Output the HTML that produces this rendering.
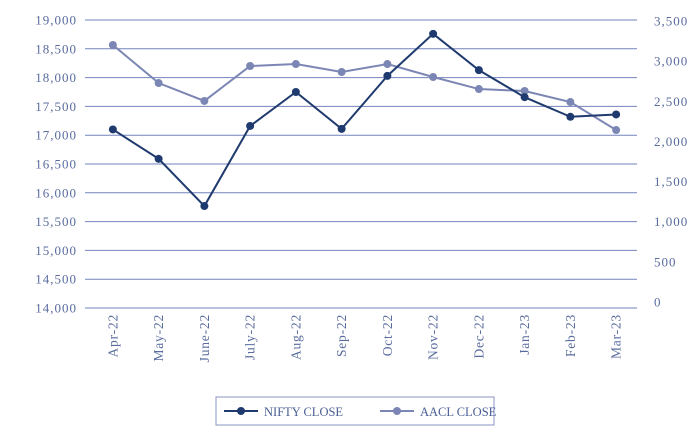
<!DOCTYPE html>
<html><head><meta charset="utf-8"><style>
body{margin:0;background:#fff;}
svg{font-family:"Liberation Serif",serif;}
</style></head><body>
<svg id="chart" width="700" height="440">
<g id="grid"></g><g id="yl"></g><g id="yr"></g><g id="xl"></g><g id="series"></g>
<g>
<rect x="216" y="397" width="278" height="28" fill="#fff" stroke="#8894c4" stroke-width="1"/>
<g>
<line x1="224" y1="411" x2="258" y2="411" stroke="#1f3a6e" stroke-width="2"/><circle cx="241" cy="411" r="4" fill="#1f3a6e"/>
<text x="264" y="416" font-size="12.5" fill="#4a5e94">NIFTY CLOSE</text></g>
<g>
<line x1="380" y1="411" x2="414" y2="411" stroke="#7b86b4" stroke-width="2"/><circle cx="397" cy="411" r="4" fill="#7b86b4"/>
<text x="420" y="416" font-size="12.5" fill="#4a5e94">AACL CLOSE</text></g>
</g>
</svg>
<script>
const categories=["Apr-22","May-22","June-22","July-22","Aug-22","Sep-22","Oct-22","Nov-22","Dec-22","Jan-23","Feb-23","Mar-23"];
const nifty=[17100,16590,15770,17160,17750,17110,18030,18760,18130,17660,17320,17360];
const aacl=[3196,2734,2516,2941,2965,2868,2965,2807,2661,2637,2503,2163];
const leftTicks=[14000,14500,15000,15500,16000,16500,17000,17500,18000,18500,19000];
const rightTicks=[0,500,1000,1500,2000,2500,3000,3500];
const NS="http://www.w3.org/2000/svg";
const x0=90,x1=639,yT=20,yB=308;
const bw=(x1-x0)/categories.length;
const xs=i=>x0+bw*(i+0.5);
const yL=v=>yB-(v-14000)/5000*(yB-yT);
const yR=v=>yB-v/3500*(yB-yT);
const yRlab=v=>302-v/3500*281;
function mk(t,a,p){const e=document.createElementNS(NS,t);for(const k in a)e.setAttribute(k,a[k]);p.appendChild(e);return e;}
const grid=document.getElementById('grid'),yl=document.getElementById('yl'),yr=document.getElementById('yr'),xl=document.getElementById('xl'),ser=document.getElementById('series');
leftTicks.forEach(v=>{
 const l=mk('line',{x1:85,x2:637,y1:yL(v),y2:yL(v),stroke:'#7483bd','stroke-width':1},grid);
 
 
 const t=mk('text',{x:77,y:yL(v)+4.5,'text-anchor':'end','font-size':13,'letter-spacing':1,fill:'#5a6c9e'},yl);
 t.textContent=v.toLocaleString('en-US');
 
 
});
rightTicks.forEach(v=>{
 const t=mk('text',{x:654,y:yRlab(v)+4.5,'font-size':13,'letter-spacing':1,fill:'#5a6c9e'},yr);
 t.textContent=v.toLocaleString('en-US');
 
 
});
categories.forEach((c,i)=>{
 const t=mk('text',{transform:`translate(${xs(i)+4.5},314) rotate(-90)`,'text-anchor':'end','font-size':13.5,'letter-spacing':0.8,fill:'#5a6c9e'},xl);
 t.textContent=c;
 
 
});
function draw(vals,yf,col,name){
 const p=mk('polyline',{points:vals.map((v,i)=>xs(i)+','+yf(v)).join(' '),fill:'none',stroke:col,'stroke-width':2},ser);
 
 
 vals.forEach((v,i)=>{
  const c=mk('circle',{cx:xs(i),cy:yf(v),r:4,fill:col},ser);
  
  
 });
}
draw(aacl,yR,'#7b86b4','aacl');
draw(nifty,yL,'#1f3a6e','nifty');
</script>
</body></html>
